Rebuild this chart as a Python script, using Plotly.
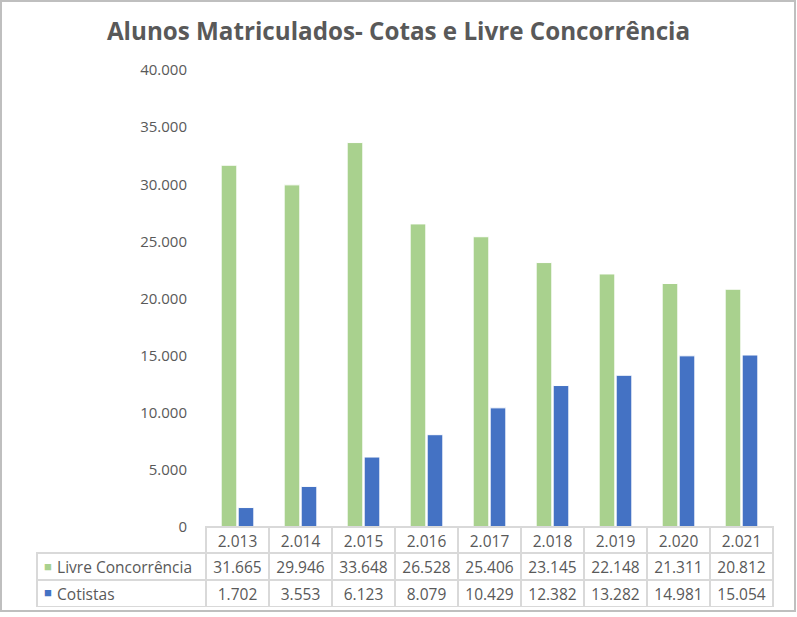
import plotly.graph_objects as go

# Dados do gráfico
anos = [2013, 2014, 2015, 2016, 2017, 2018, 2019, 2020, 2021]
livre_concorrencia = [31665, 29946, 33648, 26528, 25406, 23145, 22148, 21311, 20812]
cotistas = [1702, 3553, 6123, 8079, 10429, 12382, 13282, 14981, 15054]

serie_nomes = ["Livre Concorrência", "Cotistas"]
serie_cores = ["#A9D18E", "#4472C4"]

W, H = 797, 617
TEXTO = "#595959"
GRADE = "#D9D9D9"
FONTE = "Open Sans"
NBSP = "\u00a0"


def milhar(v):
    return f"{v:,}".replace(",", ".")


rotulos_anos = [milhar(a) for a in anos]

fig = go.Figure()

for nome, valores, cor in zip(serie_nomes, [livre_concorrencia, cotistas], serie_cores):
    fig.add_trace(go.Bar(
        x=rotulos_anos,
        y=valores,
        name=nome,
        marker=dict(color=cor, line=dict(color="white", width=1)),
        showlegend=False,
        hoverinfo="x+y+name",
    ))

# Tabela de dados abaixo do gráfico (como no Excel)
# espaços não separáveis para a tabela não quebrar a linha
colunas = [[NBSP * 3 + n.replace(" ", NBSP) for n in serie_nomes]] + [
    [milhar(lc), milhar(ct)] for lc, ct in zip(livre_concorrencia, cotistas)
]

fig.add_trace(go.Table(
    domain=dict(x=[37 / W, 773 / W], y=[1 - 607 / H, 1 - 527 / H]),
    columnwidth=[169] + [63] * len(anos),
    header=dict(
        values=[""] + rotulos_anos,
        height=26,
        fill=dict(color=["rgba(0,0,0,0)"] + ["white"] * len(anos)),
        line=dict(color=["rgba(0,0,0,0)"] + [GRADE] * len(anos), width=1.5),
        align="center",
        font=dict(family=FONTE, size=15.5, color=TEXTO),
    ),
    cells=dict(
        values=colunas,
        height=27,
        fill=dict(color="white"),
        line=dict(color=GRADE, width=1.5),
        align=["left"] + ["center"] * len(anos),
        font=dict(family=FONTE, size=15.5, color=TEXTO),
    ),
))

# marcadores de legenda na primeira coluna da tabela
marcadores = []
for i, cor in enumerate(serie_cores):
    marcadores.append(dict(
        xref="paper", yref="paper",
        x=48 / W, y=1 - (566 + 26 * i) / H,
        text="■", showarrow=False,
        font=dict(size=13, color=cor),
        xanchor="center", yanchor="middle",
    ))

fig.update_layout(
    width=W,
    height=H,
    margin=dict(l=0, r=0, t=0, b=0, autoexpand=False),
    paper_bgcolor="white",
    plot_bgcolor="white",
    separators=",.",
    barmode="group",
    bargap=0.46,
    bargroupgap=0.08,
    font=dict(family=FONTE, color=TEXTO),
    title=dict(
        text="<b>Alunos Matriculados- Cotas e Livre Concorrência</b>",
        x=0.5,
        xanchor="center",
        y=1 - 32 / H,
        yanchor="middle",
        font=dict(family=FONTE, size=24.2, color=TEXTO),
    ),
    xaxis=dict(
        domain=[206 / W, 773 / W],
        showticklabels=False,
        showgrid=False,
        showline=False,
        zeroline=False,
        ticks="",
        automargin=False,
    ),
    yaxis=dict(
        domain=[1 - 527 / H, 1 - 70 / H],
        range=[0, 40000],
        tickvals=list(range(0, 40001, 5000)),
        tickformat=",d",
        showgrid=False,
        showline=False,
        zeroline=False,
        ticks="",
        ticklabelstandoff=18,
        automargin=False,
        tickfont=dict(family=FONTE, size=15, color=TEXTO),
    ),
    annotations=marcadores,
    shapes=[
        dict(
            type="rect", xref="paper", yref="paper",
            x0=1 / W, x1=795 / W, y0=1 - 611 / H, y1=1 - 1 / H,
            line=dict(color="#BFBFBF", width=2),
            fillcolor="rgba(0,0,0,0)",
        )
    ],
)

fig.write_html(
    "out.html",
    config={"displayModeBar": False},
    post_script="document.body.style.margin='0';document.body.style.overflow='hidden';",
)
